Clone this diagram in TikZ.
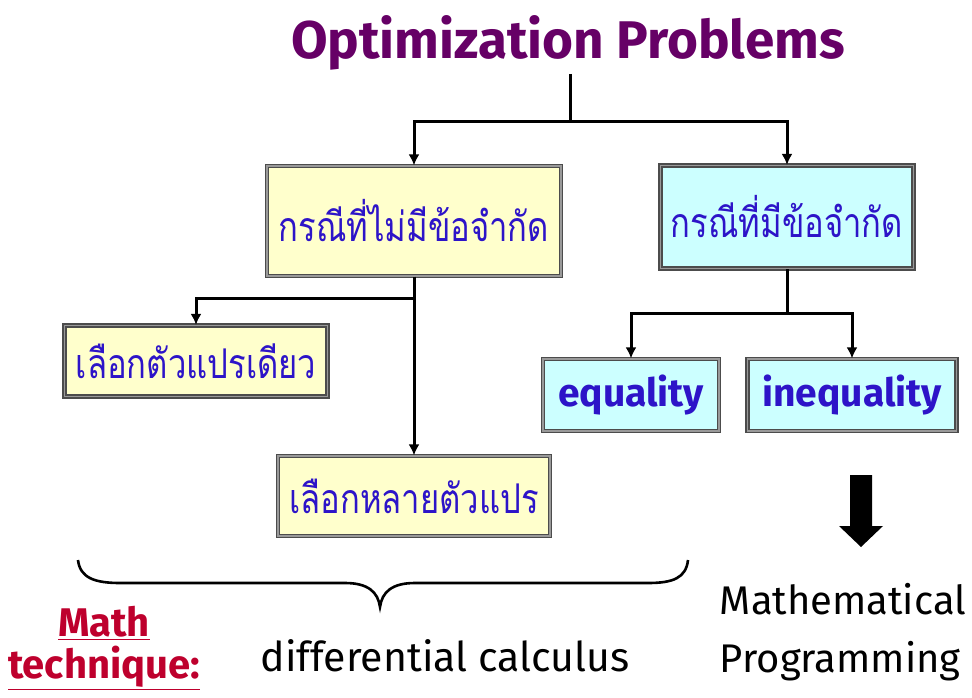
\documentclass[tikz,border=0pt]{standalone}
\usepackage{fontspec}
\setmainfont{Fira Sans}
\newfontfamily\thaifont[Script=Thai, FakeStretch=0.8]{Loma}
\usetikzlibrary{arrows.meta}

\definecolor{titlepurple}{RGB}{102,0,102}
\definecolor{textblue}{RGB}{45,20,200}
\definecolor{mathred}{RGB}{190,0,45}
\definecolor{boxyellow}{RGB}{255,255,204}
\definecolor{boxcyan}{RGB}{204,255,255}

\begin{document}
\begin{tikzpicture}[x=1pt, y=-1pt,
	box/.style={draw=black!70, double=black!40, double distance=1.8pt, line width=1.2pt,
		text=textblue, inner sep=0pt},
	yellowbox/.style={box, fill=boxyellow},
	cyanbox/.style={box, fill=boxcyan},
	link/.style={line width=3pt},
	conn/.style={link, -{Latex[length=11pt, width=11pt]}},
	thaitext/.style={font=\thaifont\fontsize{41}{44}\selectfont},
	engtext/.style={font=\bfseries\fontsize{39}{42}\selectfont}]
	\useasboundingbox (0,0) rectangle (972,698);
	\node[font=\bfseries\fontsize{53}{56}\selectfont, text=titlepurple] (title) at (568,43) {Optimization Problems};
	% first level
	\node[yellowbox, thaitext, minimum width=294pt, minimum height=110pt] (nocon) at (414,221) {กรณีที่ไม่มีข้อจำกัด};
	\node[cyanbox, thaitext, minimum width=253pt, minimum height=103pt] (withcon) at (787,217) {กรณีที่มีข้อจำกัด};
	% second level
	\node[yellowbox, thaitext, minimum width=263pt, minimum height=71pt] (single) at (196,361) {เลือกตัวแปรเดียว};
	\node[yellowbox, thaitext, minimum width=272pt, minimum height=80pt] (multi) at (414,496) {เลือกหลายตัวแปร};
	\node[cyanbox, engtext, minimum width=176pt, minimum height=72pt] (eq) at (631,395) {equality};
	\node[cyanbox, engtext, minimum width=209pt, minimum height=72pt] (ineq) at (852,395) {inequality};
	\coordinate (split) at (570,122);
	\coordinate (b1) at (414,298);
	\coordinate (b2) at (787,313);
	\draw[link] (split |- title.south) -- (split);
	\draw[conn] (split) -| (nocon.north);
	\draw[conn] (split) -| (withcon.north);
	\draw[link] (nocon) -- (b1);
	\draw[conn] (b1) -| (single.north);
	\draw[conn] (b1) -- (multi);
	\draw[link] (withcon) -- (b2);
	\draw[conn] (b2) -| (eq.north);
	\draw[conn] (b2) -| (ineq.north);
	% brace under the left part
	\draw[line width=2.6pt] (78,560) .. controls (80,578) and (95,583) .. (120,583) -- (345,583)
		.. controls (368,583) and (378,592) .. (380,607)
		.. controls (382,592) and (392,583) .. (415,583) -- (648,583)
		.. controls (673,583) and (686,578) .. (688,560);
	% big arrow
	\fill (850,475) -- (872,475) -- (872,526) -- (883,526) -- (861,547) -- (839,526) -- (850,526) -- cycle;
	\node[font=\bfseries\fontsize{40}{44}\selectfont, text=mathred, align=center] (mathlabel) at (104,648)
		{\underline{Math}\\[-2pt]\underline{technique:}};
	\node[font=\fontsize{41}{44}\selectfont] (calc) at (445,656) {differential calculus};
	\node[font=\fontsize{40}{58}\selectfont, align=left] (mathprog) at (843,632) {Mathematical\\Programming};
\end{tikzpicture}
\end{document}
